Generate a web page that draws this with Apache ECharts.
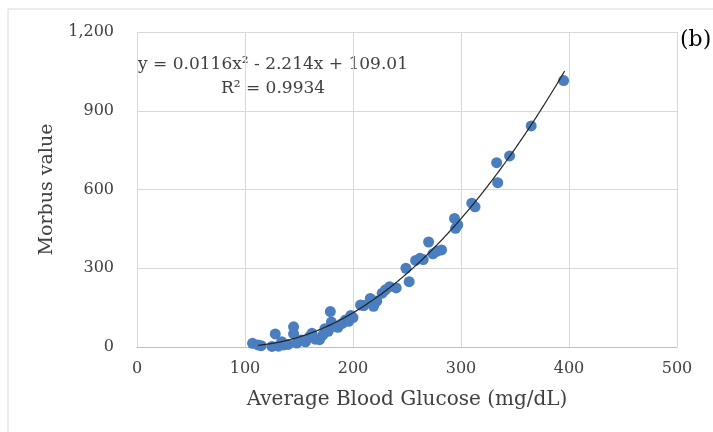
<!DOCTYPE html>
<html>
<head>
<meta charset="utf-8">
<script src="https://cdn.jsdelivr.net/npm/echarts@6/dist/echarts.min.js"></script>
<style>
  html, body { margin: 0; padding: 0; background: #fff; }
  #main { width: 713px; height: 432px; }
</style>
</head>
<body>
<div id="main"></div>
<script>
// average blood glucose (mg/dL)
var glucose = [107, 112, 115, 125, 128, 131, 134, 136, 140, 145, 145, 148, 152, 156, 160, 162, 165, 169, 172, 174,
  177, 179, 180, 182, 186, 190, 193, 196, 198, 200, 207, 210, 216, 219, 222, 227, 230, 234, 240, 249,
  252, 258, 262, 265, 270, 274, 278, 282, 294, 295, 297, 310, 313, 333, 334, 345, 365, 395];
// morbus value
var morbus = [14, 8, 5, 2, 50, 3, 20, 8, 10, 77, 50, 15, 27, 20, 40, 52, 30, 28, 45, 70,
  60, 135, 95, 80, 75, 90, 103, 98, 120, 112, 160, 158, 185, 155, 175, 205, 218, 230, 225, 300,
  249, 330, 338, 333, 400, 355, 365, 370, 490, 452, 465, 548, 534, 702, 626, 728, 842, 1015];

// polynomial trendline as printed on the chart: a*x^2 + b*x + c
var trendCoef = [0.0116, -2.214, 109.01];
var trendRange = [112, 396];

var xTicks = [0, 100, 200, 300, 400, 500];
var yTicks = [0, 300, 600, 900, 1200];

var points = glucose.map(function (g, i) { return [g, morbus[i]]; });

var trend = [];
for (var x = trendRange[0]; x <= trendRange[1]; x += 2) {
  trend.push([x, trendCoef[0] * x * x + trendCoef[1] * x + trendCoef[2]]);
}

var serif = 'DejaVu Serif';

var myChart = echarts.init(document.getElementById('main'));

var option = {
  animation: false,
  backgroundColor: '#fff',
  textStyle: { fontFamily: serif },
  grid: { left: 137, right: 36, top: 32, bottom: 85 },
  graphic: [
    {
      type: 'rect',
      shape: { x: 8, y: 9, width: 720, height: 440 },
      style: { fill: 'none', stroke: '#d9d9d9', lineWidth: 1 },
      silent: true
    },
    {
      type: 'text',
      x: 273, y: 56,
      style: { text: 'y = 0.0116x² - 2.214x + 109.01', font: '17px "DejaVu Serif"', fill: '#404040', textAlign: 'center' }
    },
    {
      type: 'text',
      x: 273, y: 80,
      style: { text: 'R² = 0.9934', font: '17px "DejaVu Serif"', fill: '#404040', textAlign: 'center' }
    },
    {
      type: 'text',
      left: 680, top: 29,
      style: { text: '(b)', font: '22px "DejaVu Serif"', fill: '#000' }
    }
  ],
  xAxis: {
    type: 'value',
    min: xTicks[0],
    max: xTicks[xTicks.length - 1],
    interval: 100,
    name: 'Average Blood Glucose (mg/dL)',
    nameLocation: 'middle',
    nameGap: 43,
    nameTextStyle: { fontFamily: serif, fontSize: 20, color: '#404040' },
    axisLine: { show: true, lineStyle: { color: '#bfbfbf' } },
    axisTick: { show: false },
    axisLabel: { fontFamily: serif, fontSize: 16, color: '#404040', margin: 14 },
    splitLine: { show: true, lineStyle: { color: '#d9d9d9' } }
  },
  yAxis: {
    type: 'value',
    min: yTicks[0],
    max: yTicks[yTicks.length - 1],
    interval: 300,
    name: 'Morbus value',
    nameLocation: 'middle',
    nameGap: 80,
    nameRotate: 90,
    nameTextStyle: { fontFamily: serif, fontSize: 19, color: '#404040' },
    axisLine: { show: false },
    axisTick: { show: false },
    axisLabel: {
      fontFamily: serif, fontSize: 16, color: '#404040', margin: 23,
      formatter: function (v) { return v.toString().replace(/\B(?=(\d{3})+(?!\d))/g, ','); }
    },
    splitLine: { show: true, lineStyle: { color: '#d9d9d9' } }
  },
  series: [
    {
      type: 'scatter',
      data: points,
      symbolSize: 11,
      itemStyle: { color: '#4a7ebf', opacity: 1 }
    },
    {
      type: 'line',
      data: trend,
      showSymbol: false,
      smooth: true,
      lineStyle: { color: '#222', width: 1.2 },
      z: 3
    }
  ]
};

myChart.setOption(option);
</script>
</body>
</html>
